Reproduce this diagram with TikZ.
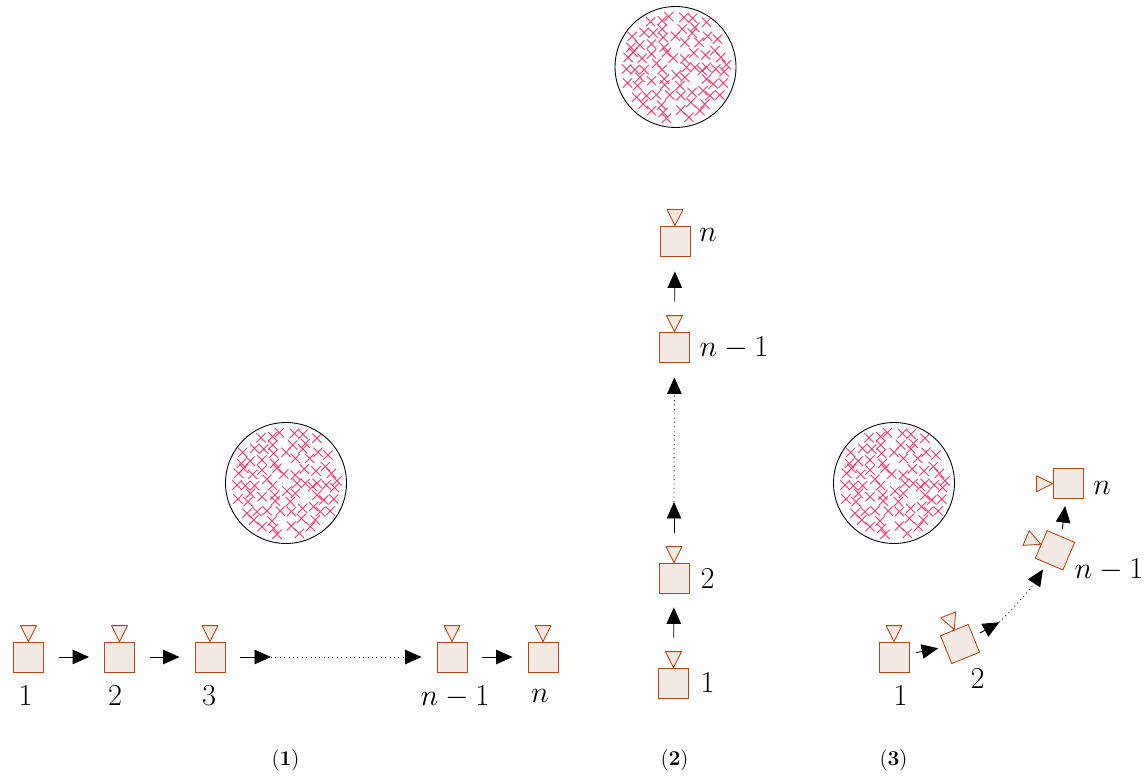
\documentclass[tikz,border=0pt]{standalone}
\usepackage{amsmath}
\usetikzlibrary{arrows.meta}

\definecolor{camline}{RGB}{176,72,24}
\definecolor{camfill}{RGB}{243,233,227}
\definecolor{crossred}{RGB}{255,30,90}

\tikzset{
  camsq/.style={draw=camline,fill=camfill,rectangle,minimum size=0.6cm,inner sep=0pt,line width=0.5pt},
  camtri/.style={draw=camline,fill=camfill,line join=round,line width=0.5pt},
  disc/.style={draw,circle,minimum size=2.42cm,inner sep=0pt,line width=0.5pt},
  crossmk/.style={crossred,opacity=0.9,line width=0.5pt},
  flow/.style={-{Triangle[length=0.33cm,width=0.29cm]},line width=0.5pt},
  wide/.style={shorten <=0.3cm,shorten >=0.3cm},
  lab/.style={font=\LARGE,inner sep=0pt},
  capt/.style={font=\large,inner sep=0pt}
}

\newcommand{\crosslist}{137/78,172/75,192/63,237/65,263/68,305/80,
  82/122,118/110,145/112,172/100,232/100,212/122,270/95,262/112,
  308/122,338/130,283/140,240/140,175/125,140/145,105/148,78/155,
  70/185,85/170,112/188,140/175,178/155,185/170,205/187,267/172,
  302/178,330/165,348/185,155/203,240/190,172/222,65/220,90/222,
  118/222,245/215,270/215,365/207,305/215,292/225,333/220,358/228,
  215/238,240/245,178/250,105/245,68/262,140/255,98/270,225/270,
  305/250,325/265,355/262,180/268,195/298,228/300,262/290,295/285,
  315/300,345/298,95/305,125/300,155/297,115/325,170/328,140/345,
  258/320,300/325,228/343,285/345,175/350,185/368,252/365}

% disc with its cloud of crosses
\newcommand{\crossdisc}[2]{
  \node[disc] (#1) at (#2) {};
  \begin{scope}[shift={(#2)},scale=0.3333,shift={(-212,-214)}]
    \foreach \cx/\cy in \crosslist {
      \draw[crossmk] (\cx-14,\cy-14) -- (\cx+14,\cy+14) (\cx-14,\cy+14) -- (\cx+14,\cy-14);
    }
  \end{scope}
}

% square with its small triangle on the top side
\newcommand{\cam}[3]{
  \node[camsq,rotate=#3] (#1) at (#2) {};
  \draw[camtri,shift={(#1.north)},rotate=#3] (0,0) -- (-8,-16) -- (8,-16) -- cycle;
}

\begin{document}
\begin{tikzpicture}[x=0.02cm,y=-0.02cm]
  \useasboundingbox (0,0) rectangle (1145,776);

  % (1)
  \crossdisc{discA}{286,483}
  \foreach \nm/\px in {a1/28.5,a2/119.5,a3/210,a4/452,a5/543} {
    \cam{\nm}{\px,657}{0}
  }
  \coordinate (acut) at (271,657);
  \draw[flow,wide] (a1) -- (a2);
  \draw[flow,wide] (a2) -- (a3);
  \draw[flow,shorten <=0.3cm] (a3) -- (acut);
  \draw[flow,dotted,shorten >=0.3cm] (acut) -- (a4);
  \draw[flow,wide] (a4) -- (a5);
  \node[lab] (la1) at (25.5,696) {$1$};
  \node[lab] (la2) at (115,696) {$2$};
  \node[lab] (la3) at (209,696) {$3$};
  \node[lab] (la4) at (455,696.5) {$n-1$};
  \node[lab] (la5) at (540,696) {$n$};
  \node[capt] (capA) at (285.5,760) {(\textbf{1})};

  % (2)
  \crossdisc{discB}{675.5,67}
  \cam{b1}{673.5,683}{0}
  \cam{b2}{674,578}{0}
  \cam{b3}{674.5,347}{0}
  \cam{b4}{675,241}{0}
  \coordinate (bcut) at (674,502);
  \draw[flow,shorten <=0.6cm,shorten >=0.28cm] (b1) -- (b2);
  \draw[flow,shorten <=0.6cm] (b2) -- (bcut);
  \draw[flow,dotted,shorten >=0.3cm] (bcut) -- (b3);
  \draw[flow,shorten <=0.6cm,shorten >=0.3cm] (b3) -- (b4);
  \node[lab] (lb1) at (707.5,683) {$1$};
  \node[lab] (lb2) at (707.5,578.5) {$2$};
  \node[lab] (lb3) at (734,347.5) {$n-1$};
  \node[lab] (lb4) at (708,235) {$n$};
  \node[capt] (capB) at (674.5,760) {(\textbf{2})};

  % (3)
  \crossdisc{discC}{894,483}
  \cam{c1}{894,657}{0}
  \cam{c2}{960,644}{22}
  \cam{c3}{1055,550.3}{67}
  \cam{c4}{1068,483.7}{90}
  \coordinate (ccut) at (999.3,622.3);
  \coordinate (ctop) at (1062.3,528.7);
  \draw[flow,shorten <=0.14cm,shorten >=0.13cm] (c1) -- (c2);
  \draw[flow,shorten <=0.14cm] (c2) -- (ccut);
  \draw[flow,dotted,shorten >=0.14cm] (ccut) to[bend right=6] (c3);
  \draw[flow,shorten >=0.14cm] (ctop) -- (c4);
  \node[lab] (lc1) at (900.5,696) {$1$};
  \node[lab] (lc2) at (977.5,679) {$2$};
  \node[lab] (lc3) at (1109,570) {$n-1$};
  \node[lab] (lc4) at (1102,487.5) {$n$};
  \node[capt] (capC) at (893.5,760) {(\textbf{3})};
\end{tikzpicture}
\end{document}
